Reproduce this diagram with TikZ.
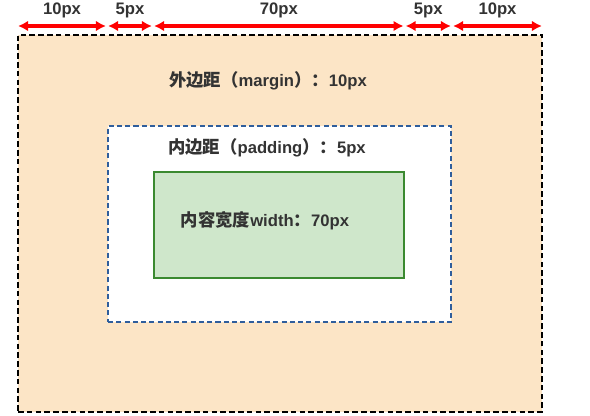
\documentclass[tikz,border=0pt]{standalone}
\usepackage{fontspec}
\setmainfont{Liberation Sans}
\newfontfamily\cjk{Noto Sans CJK SC}
\usetikzlibrary{arrows.meta,calc,positioning}
\definecolor{marginfill}{HTML}{FCE5C6}
\definecolor{contentfill}{HTML}{CFE7CB}
\definecolor{contentline}{HTML}{3B8A30}
\definecolor{paddingline}{HTML}{2F5E9C}
\definecolor{labeltext}{HTML}{333333}
\newcommand{\zh}[1]{{\cjk\fontsize{13}{15}\selectfont #1}}
\tikzset{
    marginbox/.style = {draw=black, fill=marginfill, line width=1.5pt,
        dash pattern=on 4.2pt off 2.4pt, anchor=north west, inner sep=0pt},
    paddingbox/.style = {draw=paddingline, fill=white, line width=1.5pt,
        dash pattern=on 3.8pt off 2.4pt, anchor=north west, inner sep=0pt},
    contentbox/.style = {draw=contentline, fill=contentfill, line width=1.2pt,
        anchor=north west, inner sep=0pt},
    dimarrow/.style = {draw=red, line width=2.5pt,
        {Latex[length=7.5pt,width=8pt]}-{Latex[length=7.5pt,width=8pt]},
        shorten <=0.8pt, shorten >=0.8pt},
    lbl/.style = {font=\bfseries\fontsize{12.5}{14}\selectfont, text=labeltext, inner sep=0pt}
}
\begin{document}
\begin{tikzpicture}[x=0.75pt, y=-0.75pt]
        \useasboundingbox[fill=white] (0,0) rectangle (590,416);
        % boxes
        \node [marginbox, minimum width=393pt, minimum height=282.75pt] (margin) at (17,34) {};
        \node [paddingbox, minimum width=257.25pt, minimum height=147pt] (padding) at (107,125) {};
        \node [contentbox, minimum width=187.5pt, minimum height=79.5pt] (content) at (153,171) {};
        % box labels
        \node [lbl] (margintext) at (268,81) {\zh{外边距（}margin\zh{）：}10px};
        \node [lbl] (paddingtext) at (267,148) {\zh{内边距（}padding\zh{）：}5px};
        \node [lbl] (contenttext) at (265,221) {\zh{内容宽度}width\zh{：}70px};
        % dimension line
        \coordinate (d0) at ($(margin.north west)+(0,-8)$);
        \coordinate (d1) at (d0 -| padding.north west);
        \coordinate (d2) at (d0 -| content.north west);
        \coordinate (d3) at (d0 -| content.north east);
        \coordinate (d4) at (d0 -| padding.north east);
        \coordinate (d5) at (d0 -| margin.north east);
        \draw [dimarrow] (d0) -- node [lbl, above=5pt] (w1) {10px} (d1);
        \draw [dimarrow] (d1) -- node [lbl, above=5pt] (w2) {5px} (d2);
        \draw [dimarrow] (d2) -- node [lbl, above=5pt] (w3) {70px} (d3);
        \draw [dimarrow] (d3) -- node [lbl, above=5pt] (w4) {5px} (d4);
        \draw [dimarrow] (d4) -- node [lbl, above=5pt] (w5) {10px} (d5);
\end{tikzpicture}
\end{document}
